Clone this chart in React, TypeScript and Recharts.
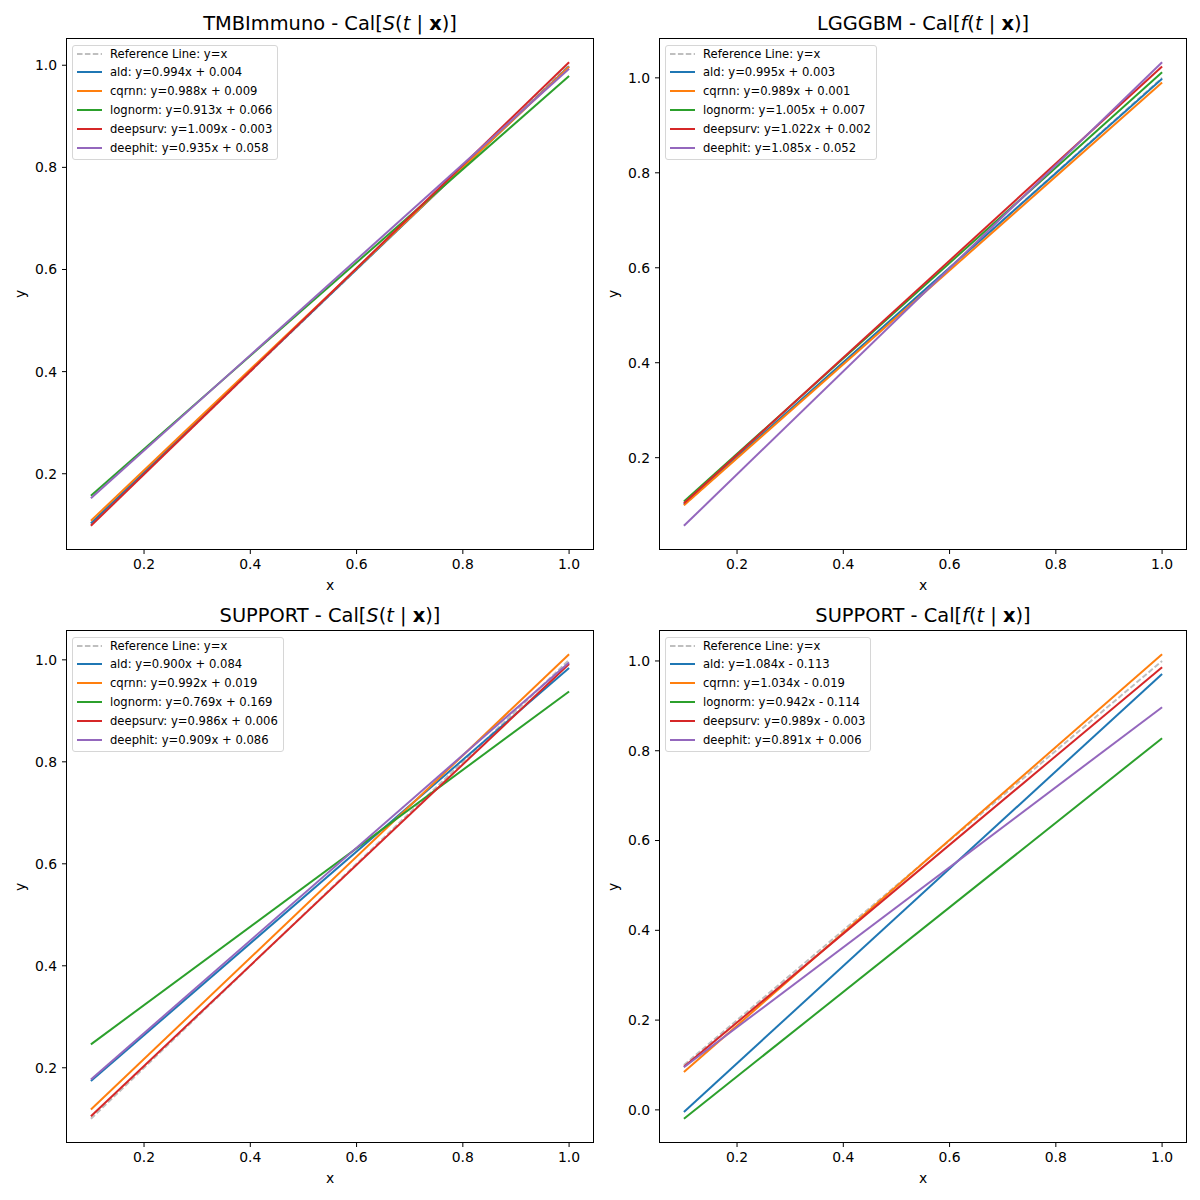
import React from 'react';
import { LineChart, Line, XAxis, YAxis } from 'recharts';

// x positions where each calibration line starts and ends
const xEnds = [0.1, 1.0];
const refLine = [0.1, 1.0];
const models = ['ald', 'cqrnn', 'lognorm', 'deepsurv', 'deephit'];
const colors = ['#1f77b4', '#ff7f0e', '#2ca02c', '#d62728', '#9467bd'];
const xTicks = [0.2, 0.4, 0.6, 0.8, 1.0];

// TMBImmuno - survival
const tmbSurvStart = [0.103, 0.108, 0.157, 0.098, 0.152];
const tmbSurvEnd = [0.998, 0.997, 0.979, 1.006, 0.993];
const tmbSurvFits = ['y=0.994x + 0.004', 'y=0.988x + 0.009', 'y=0.913x + 0.066', 'y=1.009x - 0.003', 'y=0.935x + 0.058'];

// LGGGBM - density
const lggDensStart = [0.1025, 0.1, 0.1075, 0.104, 0.0565];
const lggDensEnd = [0.998, 0.99, 1.012, 1.024, 1.033];
const lggDensFits = ['y=0.995x + 0.003', 'y=0.989x + 0.001', 'y=1.005x + 0.007', 'y=1.022x + 0.002', 'y=1.085x - 0.052'];

// SUPPORT - survival
const supSurvStart = [0.174, 0.118, 0.246, 0.105, 0.177];
const supSurvEnd = [0.984, 1.011, 0.938, 0.992, 0.995];
const supSurvFits = ['y=0.900x + 0.084', 'y=0.992x + 0.019', 'y=0.769x + 0.169', 'y=0.986x + 0.006', 'y=0.909x + 0.086'];

// SUPPORT - density
const supDensStart = [-0.0046, 0.0844, -0.0198, 0.0959, 0.0951];
const supDensEnd = [0.971, 1.015, 0.828, 0.986, 0.897];
const supDensFits = ['y=1.084x - 0.113', 'y=1.034x - 0.019', 'y=0.942x - 0.114', 'y=0.989x - 0.003', 'y=0.891x + 0.006'];

const FONT = '"DejaVu Sans", sans-serif';

function buildRows(start: number[], end: number[]) {
  return xEnds.map((x, i) => {
    const row: Record<string, number> = { x, ref: refLine[i] };
    models.forEach((m, j) => {
      row[m] = i === 0 ? start[j] : end[j];
    });
    return row;
  });
}

function Title({ name, fn }: { name: string; fn: string }) {
  return (
    <span>
      {name} - Cal[<i>{fn}</i>(<i>t</i> | <b>x</b>)]
    </span>
  );
}

function LegendBox({ fits }: { fits: string[] }) {
  const rows = [{ label: 'Reference Line: y=x', color: '#bfbfbf', dash: true }].concat(
    models.map((m, i) => ({ label: `${m}: ${fits[i]}`, color: colors[i], dash: false }))
  );
  return (
    <div
      style={{
        position: 'absolute',
        left: 5,
        top: 6,
        border: '1px solid #d6d6d6',
        borderRadius: 3,
        background: 'rgba(255,255,255,0.8)',
        padding: '0 5px 4px 4px',
        fontFamily: FONT,
        fontSize: 11.6,
        display: 'flex',
        flexDirection: 'column',
        gap: 3.9,
      }}
    >
      {rows.map((r) => (
        <div key={r.label} style={{ display: 'flex', alignItems: 'center', height: 15, whiteSpace: 'nowrap' }}>
          <svg width={25} height={4} style={{ marginRight: 8 }}>
            <line x1={0} y1={2} x2={25} y2={2} stroke={r.color} strokeWidth={2} strokeDasharray={r.dash ? '5.5 2.4' : undefined} />
          </svg>
          <span>{r.label}</span>
        </div>
      ))}
    </div>
  );
}

function Panel({
  left,
  top,
  plotH,
  name,
  fn,
  start,
  end,
  fits,
  yTicks,
}: {
  left: number;
  top: number;
  plotH: number;
  name: string;
  fn: string;
  start: number[];
  end: number[];
  fits: string[];
  yTicks: number[];
}) {
  const rows = buildRows(start, end);
  const all = start.concat(end, refLine);
  const lo = Math.min(...all);
  const hi = Math.max(...all);
  const pad = (hi - lo) * 0.05;
  const yDomain = [lo - pad, hi + pad];
  const tick = { fill: '#000', fontSize: 13.9, fontFamily: FONT };
  const plotW = 526;

  return (
    <div style={{ position: 'absolute', left, top, width: 600, height: 600 }}>
      <div
        style={{
          position: 'absolute',
          left: 0,
          width: 660,
          top: 12,
          textAlign: 'center',
          fontFamily: FONT,
          fontSize: 19.4,
          lineHeight: '24px',
          color: '#000',
          whiteSpace: 'nowrap',
        }}
      >
        <Title name={name} fn={fn} />
      </div>
      <LineChart width={600} height={600} data={rows} margin={{ top: 39, right: 7, bottom: 600 - 39 - plotH - 30, left: 0 }}>
        <XAxis
          dataKey="x"
          type="number"
          domain={[0.055, 1.045]}
          ticks={xTicks}
          tickFormatter={(v: number) => v.toFixed(1)}
          axisLine={false}
          tickLine={{ stroke: '#000' }}
          tickSize={5}
          tickMargin={5}
          tick={tick}
          height={30}
        />
        <YAxis
          type="number"
          domain={yDomain}
          ticks={yTicks}
          tickFormatter={(v: number) => v.toFixed(1)}
          axisLine={false}
          tickLine={{ stroke: '#000' }}
          tickSize={5}
          tickMargin={5}
          tick={tick}
          width={67}
          allowDataOverflow
        />
        <Line type="linear" dataKey="ref" stroke="#bfbfbf" strokeWidth={2} strokeDasharray="5.5 2.4" dot={false} isAnimationActive={false} />
        {models.map((m, i) => (
          <Line key={m} type="linear" dataKey={m} stroke={colors[i]} strokeWidth={2} dot={false} isAnimationActive={false} />
        ))}
      </LineChart>
      <div
        style={{
          position: 'absolute',
          left: 66,
          top: 38,
          width: plotW + 2,
          height: plotH + 2,
          border: '1px solid #000',
          boxSizing: 'border-box',
          pointerEvents: 'none',
        }}
      >
        <LegendBox fits={fits} />
      </div>
      <div
        style={{
          position: 'absolute',
          left: 67,
          width: plotW,
          top: 39 + plotH + 27,
          textAlign: 'center',
          fontFamily: FONT,
          fontSize: 13.9,
          lineHeight: '18px',
        }}
      >
        x
      </div>
      <div
        style={{
          position: 'absolute',
          left: 20,
          top: 39 + plotH / 2,
          transform: 'translate(-50%, -50%) rotate(-90deg)',
          fontFamily: FONT,
          fontSize: 13.9,
          lineHeight: '18px',
        }}
      >
        y
      </div>
    </div>
  );
}

export default function App() {
  const yTicks = [0.2, 0.4, 0.6, 0.8, 1.0];
  const yTicksZero = [0.0, 0.2, 0.4, 0.6, 0.8, 1.0];
  return (
    <div style={{ position: 'absolute', left: 0, top: 0, width: 1200, height: 1200, background: '#fff', overflow: 'hidden' }}>
      <Panel left={0} top={0} plotH={510} name="TMBImmuno" fn="S" start={tmbSurvStart} end={tmbSurvEnd} fits={tmbSurvFits} yTicks={yTicks} />
      <Panel left={593} top={0} plotH={510} name="LGGGBM" fn="f" start={lggDensStart} end={lggDensEnd} fits={lggDensFits} yTicks={yTicks} />
      <Panel left={0} top={592} plotH={511} name="SUPPORT" fn="S" start={supSurvStart} end={supSurvEnd} fits={supSurvFits} yTicks={yTicks} />
      <Panel left={593} top={592} plotH={511} name="SUPPORT" fn="f" start={supDensStart} end={supDensEnd} fits={supDensFits} yTicks={yTicksZero} />
    </div>
  );
}
